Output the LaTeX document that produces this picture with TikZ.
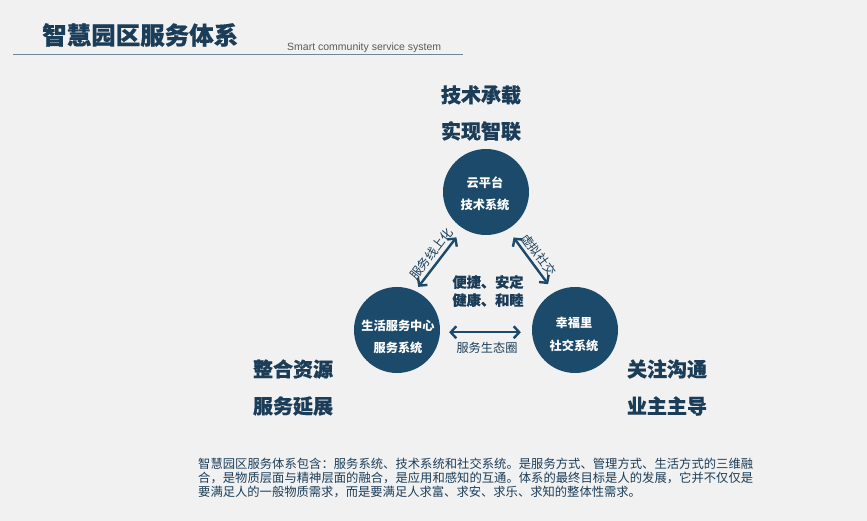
\documentclass[tikz,border=0pt]{standalone}
\usepackage{fontspec}
\setmainfont{Liberation Sans}
\newfontfamily\cjk{Noto Sans CJK SC}
\newfontfamily\cjkheavy[FakeBold=0.5]{Noto Sans CJK SC}
\usetikzlibrary{arrows.meta}
\definecolor{bg}{HTML}{F1F1F1}
\definecolor{navy}{HTML}{1B3D58}
\definecolor{disc}{HTML}{1C4A6A}
\definecolor{rulec}{HTML}{6F8797}
\definecolor{graytxt}{HTML}{5A5A5A}
\makeatletter
\def\spx#1{\ifx\relax#1\else\hfil#1\expandafter\spx\fi}
\def\spreadline#1#2\relax{#1\spx#2\relax}
\makeatother
\begin{document}
\begin{tikzpicture}[x=1pt,y=-1pt,
  big/.style={font=\cjkheavy\bfseries\fontsize{20}{24}\selectfont, text=navy, inner sep=0},
  disk/.style={circle, fill=disc, minimum size=86pt, inner sep=0},
  disktext/.style={font=\cjk\bfseries\fontsize{12.2}{14}\selectfont, text=white, inner sep=0},
  midtext/.style={font=\cjkheavy\bfseries\fontsize{14.2}{18}\selectfont, text=navy, inner sep=0},
  arrowlabel/.style={font=\cjk\fontsize{12.2}{14}\selectfont, text=navy, inner sep=0},
  para/.style={font=\cjk\fontsize{12.3}{14}\selectfont, text=navy, inner sep=0, anchor=west},
  link/.style={draw=disc, line width=2.4pt, {Straight Barb[length=5.5pt,width=12pt]}-{Straight Barb[length=5.5pt,width=12pt]}}
]
\fill[bg] (0,0) rectangle (867,521);
\useasboundingbox (0,0) rectangle (867,521);

% header
\node[anchor=west, inner sep=0, font=\cjkheavy\bfseries\fontsize{24.5}{28}\selectfont, text=navy] (title) at (42,35) {智慧园区服务体系};
\node[anchor=base west, inner sep=0, font=\fontsize{10.5}{12}\selectfont, text=graytxt] (subtitle) at (287,50.5) {Smart community service system};
\draw[rulec, line width=1pt] (13,55) -- (463,55);

% big labels
\node[big] (t1) at (481,95) {技术承载};
\node[big] (t2) at (481,131) {实现智联};
\node[big] (l1) at (293,369) {整合资源};
\node[big] (l2) at (293,406) {服务延展};
\node[big] (r1) at (667,369) {关注沟通};
\node[big] (r2) at (667,406) {业主主导};

% circles
\node[disk] (T) at (486,192) {};
\node[disk] (L) at (397,330) {};
\node[disk] (R) at (575,330) {};
\node[disktext] (T1) at (485,183) {云平台};
\node[disktext] (T2) at (485,205) {技术系统};
\node[disktext] (L1) at (398,326) {生活服务中心};
\node[disktext] (L2) at (398,348) {服务系统};
\node[disktext] (R1) at (574,323) {幸福里};
\node[disktext] (R2) at (574,346) {社交系统};

% center text
\node[midtext] (c1) at (488,282) {便捷、安定};
\node[midtext] (c2) at (488,300) {健康、和睦};

% connectors
\draw[link, shorten <=5pt, shorten >=11pt] (L.65) -- node[sloped, above=3pt, arrowlabel] (a1) {服务线上化} (T.238);
\draw[link, shorten <=10pt, shorten >=10pt] (T.300) -- node[sloped, above=3pt, arrowlabel] (a2) {虚拟社交} (R.119);
\draw[link, shorten <=9pt, shorten >=11pt] (L.-3) -- (R.183);
\node[arrowlabel] (a3) at (487,348) {服务生态圈};

% paragraph
\node[para] (p1) at (198,464) {\makebox[555pt][s]{\spreadline 智慧园区服务体系包含：服务系统、技术系统和社交系统。是服务方式、管理方式、生活方式的三维融\relax}};
\node[para] (p2) at (198,478) {\makebox[555pt][s]{\spreadline 合，是物质层面与精神层面的融合，是应用和感知的互通。体系的最终目标是人的发展，它并不仅仅是\relax}};
\node[para] (p3) at (198,492) {要满足人的一般物质需求，而是要满足人求富、求安、求乐、求知的整体性需求。};
\end{tikzpicture}
\end{document}
